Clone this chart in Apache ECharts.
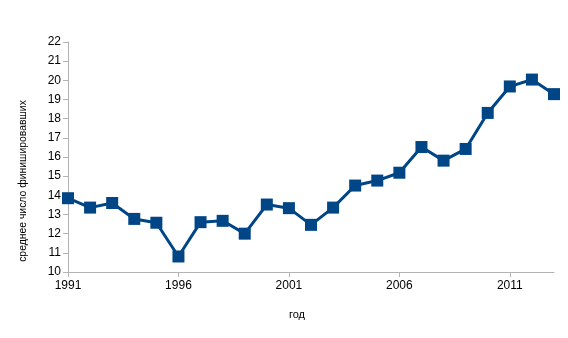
<!DOCTYPE html>
<html>
<head>
<meta charset="utf-8">
<script src="https://cdn.jsdelivr.net/npm/echarts@6/dist/echarts.min.js"></script>
<style>html,body{margin:0;padding:0;background:#fff}#c{width:568px;height:338px}</style>
</head>
<body>
<div id="c"></div>
<script>
const years = ['1991','1992','1993','1994','1995','1996','1997','1998','1999','2000','2001','2002','2003','2004','2005','2006','2007','2008','2009','2010','2011','2012','2013'];
const values = [13.85,13.36,13.6,12.77,12.57,10.81,12.6,12.67,12.0,13.52,13.33,12.46,13.36,14.51,14.77,15.18,16.52,15.81,16.42,18.3,19.68,20.04,19.28];
const yTicks = {min:10, max:22, step:1};
const xName = 'год';
const yName = 'среднее число финишировавших';

const chart = echarts.init(document.getElementById('c'), null, {renderer:'canvas'});
const font = '"Liberation Sans", Arial, sans-serif';
chart.setOption({
  animation:false,
  backgroundColor:'#fff',
  grid:{left:68,right:14,top:42,bottom:66},
  xAxis:{
    type:'category', data:years, boundaryGap:false,
    name:xName, nameLocation:'middle', nameGap:37,
    nameTextStyle:{color:'#000',fontSize:11,fontFamily:font,padding:[0,28,0,0]},
    axisLine:{lineStyle:{color:'#b3b3b3',width:1}},
    axisTick:{interval:4,length:5,lineStyle:{color:'#b3b3b3'}},
    axisLabel:{interval:4,color:'#000',fontSize:12,fontFamily:font,margin:8},
    splitLine:{show:false}
  },
  yAxis:{
    type:'value', min:yTicks.min, max:yTicks.max, interval:yTicks.step,
    name:yName, nameLocation:'middle', nameGap:40, nameRotate:90,
    nameTextStyle:{color:'#000',fontSize:10.4,fontFamily:font,padding:[0,48,0,0]},
    axisLine:{show:true,lineStyle:{color:'#b3b3b3',width:1}},
    axisTick:{show:true,length:5,lineStyle:{color:'#b3b3b3'}},
    axisLabel:{color:'#000',fontSize:12,fontFamily:font,margin:7},
    splitLine:{show:false}
  },
  series:[{
    type:'line', data:values,
    symbol:'rect', symbolSize:12,
    lineStyle:{color:'#004586',width:3},
    itemStyle:{color:'#004586'}
  }]
});
</script>
</body>
</html>
